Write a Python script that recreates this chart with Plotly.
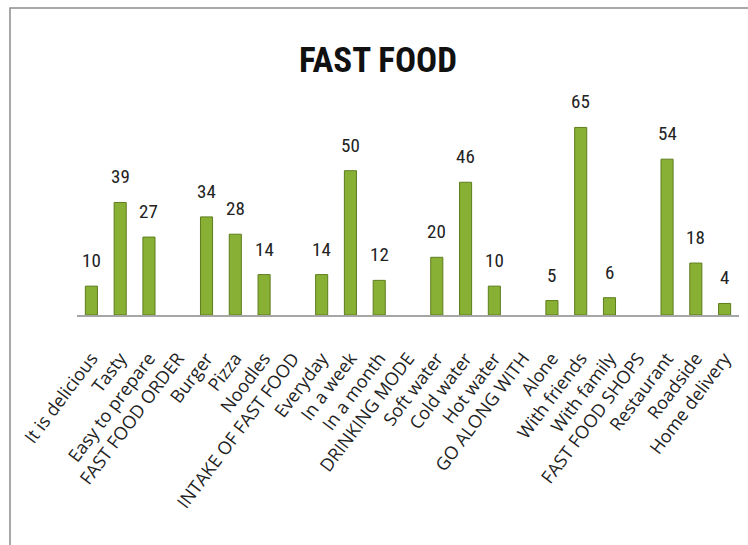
import plotly.graph_objects as go

categories = ["It is delicious", "Tasty", "Easy to prepare", "FAST FOOD ORDER", "Burger", "Pizza",
              "Noodles", "INTAKE OF FAST FOOD", "Everyday", "In a week", "In a month", "DRINKING MODE",
              "Soft water", "Cold water", "Hot water", "GO ALONG WITH", "Alone", "With friends",
              "With family", "FAST FOOD SHOPS", "Restaurant", "Roadside", "Home delivery"]
values = [10, 39, 27, None, 34, 28, 14, None, 14, 50, 12, None, 20, 46, 10, None, 5, 65, 6, None, 54, 18, 4]

W, H = 748, 545
L, R, T, B = 77, 9, 113, 230
pw, ph = W - L - R, H - T - B
NARROW = "Liberation Sans Narrow, Roboto Condensed, Arial Narrow, sans-serif"

fig = go.Figure()
fig.add_trace(go.Bar(
    x=categories, y=values,
    width=0.42,
    marker=dict(color="#88b035", line=dict(color="#5e7d1d", width=1)),
))

for c, v in zip(categories, values):
    if v is None:
        continue
    fig.add_annotation(x=c, y=v, text=str(v), showarrow=False, xanchor="center", yanchor="bottom",
                       yshift=12, font=dict(family=NARROW, size=19, color="#222"))

def px2x(p):
    return (p - L) / pw

def py2y(p):
    return (H - B - p) / ph

fig.add_shape(type="rect", xref="paper", yref="paper",
              x0=px2x(10), x1=px2x(770), y0=py2y(560), y1=py2y(8),
              line=dict(color="#8c8c8c", width=1.5), fillcolor="rgba(0,0,0,0)", layer="below")

fig.update_layout(
    width=W, height=H,
    margin=dict(l=L, r=R, t=T, b=B),
    paper_bgcolor="white", plot_bgcolor="white",
    title=dict(text="<b>FAST FOOD</b>", x=378 / W, xanchor="center", y=1 - 60 / H, yanchor="middle",
               font=dict(family=NARROW, size=35, color="#111")),
    showlegend=False,
)
fig.update_xaxes(
    type="category", tickangle=-53, showline=True, linecolor="#a6a6a6", linewidth=1.5,
    ticks="", showgrid=False, ticklabelstandoff=24,
    tickfont=dict(family="Open Sans, sans-serif", size=18, color="#222"),
)
fig.update_yaxes(range=[0, 70], visible=False, showgrid=False)

fig.write_html("out.html")
